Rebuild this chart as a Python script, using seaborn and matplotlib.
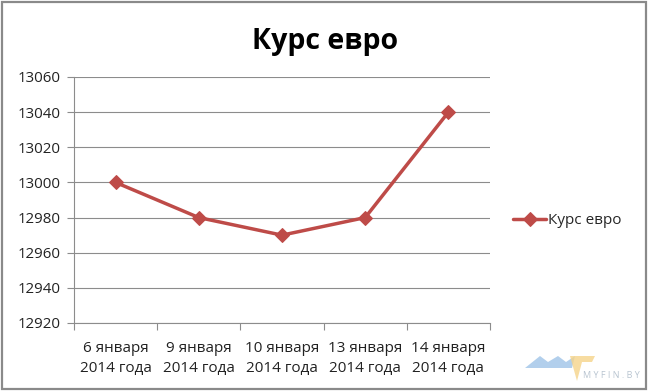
import matplotlib
matplotlib.use("Agg")
import matplotlib.pyplot as plt
import seaborn as sns
import pandas as pd
from matplotlib.patches import Rectangle, Polygon

categories = ["6 января\n2014 года", "9 января\n2014 года", "10 января\n2014 года",
              "13 января\n2014 года", "14 января\n2014 года"]
values = [13000, 12980, 12970, 12980, 13040]
series_name = "Курс евро"
yticks = [12920, 12940, 12960, 12980, 13000, 13020, 13040, 13060]

sns.set_theme(style="white")
plt.rcParams['font.family'] = ['Open Sans', 'DejaVu Sans']

df = pd.DataFrame({"date": categories, "value": values, "series": series_name})

fig = plt.figure(figsize=(6.5, 3.91), dpi=100)
ax = fig.add_axes([74/650, 1-323/391, 416/650, 246/391])

color = "#BE4B48"
sns.lineplot(data=df, x="date", y="value", hue="series", palette=[color], ax=ax,
             marker="D", markersize=7, linewidth=2.5, markeredgecolor=color, sort=False)

ax.set_xlim(-0.5, 4.5)
ax.set_ylim(12920, 13060)
ax.set_yticks(yticks)
ax.set_yticklabels([str(v) for v in yticks], fontsize=10.8, color="#222222")
ax.grid(axis="y", color="#8c8c8c", linewidth=0.8)
ax.set_axisbelow(True)
ax.set_xlabel("")
ax.set_ylabel("")
ax.set_xticks(range(len(categories)))
ax.set_xticklabels(categories, fontsize=11, color="#222222", linespacing=1.45)
ax.set_xticks([-0.5, 0.5, 1.5, 2.5, 3.5, 4.5], minor=True)
ax.tick_params(axis="x", which="major", length=0, pad=13)
ax.tick_params(axis="x", which="minor", length=5, color="#8c8c8c", width=0.8, bottom=True)
ax.tick_params(axis="y", length=5, color="#8c8c8c", width=0.8, left=True, pad=5)
for s in ["top", "right"]:
    ax.spines[s].set_visible(False)
for s in ["left", "bottom"]:
    ax.spines[s].set_color("#8c8c8c")
    ax.spines[s].set_linewidth(0.8)

ax.legend(handles=ax.get_legend().legend_handles, labels=[series_name],
          loc="center left", bbox_to_anchor=(1.04, 0.415), frameon=False,
          fontsize=11, handlelength=2.2, handletextpad=0.1, borderaxespad=0)
for h in ax.get_legend().legend_handles:
    h.set_markersize(7)
    h.set_linewidth(2.5)

fig.text(0.5, 1-42/391, "Курс евро", ha="center", va="center", fontsize=20.5,
         fontweight="bold", color="black")

# chart border
fig.patches.append(Rectangle((0.003, 0.004), 0.991, 0.99, transform=fig.transFigure,
                             fill=False, edgecolor="#8a8a8a", linewidth=1.6))

# watermark
fig.patches.append(Polygon([(525/650, 1-368/391), (540/650, 1-356/391), (548/650, 1-362/391),
                            (558/650, 1-356/391), (566/650, 1-362/391), (575/650, 1-356/391),
                            (572/650, 1-368/391)], closed=True, transform=fig.transFigure,
                           facecolor="#9fc4e8", edgecolor="none", alpha=0.8))
fig.patches.append(Polygon([(570/650, 1-356/391), (595/650, 1-356/391), (592/650, 1-362/391),
                            (582/650, 1-362/391), (577/650, 1-381/391)], closed=True,
                           transform=fig.transFigure,
                           facecolor="#f5d48a", edgecolor="none", alpha=0.8))
fig.text(583/650, 1-376/391, "M Y F I N . B Y", fontsize=6.5, color="#b8c4d0", ha="left", va="center")

fig.savefig("out.png", dpi=100)
